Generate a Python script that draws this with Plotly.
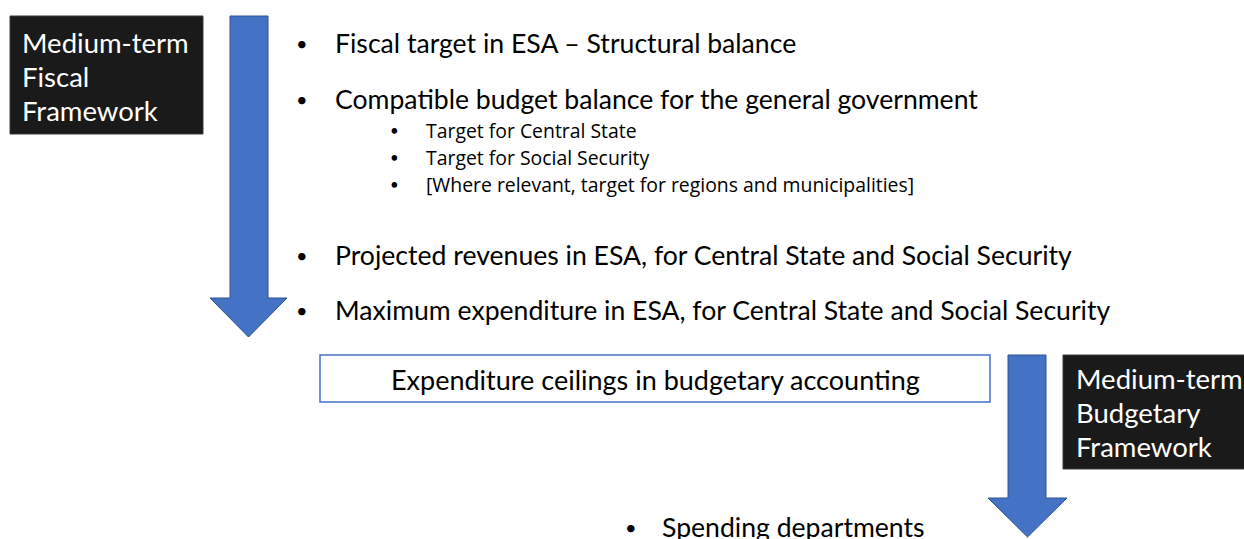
import plotly.graph_objects as go

# ---- content ----
left_label = ["Medium-term", "Fiscal", "Framework"]
right_label = ["Medium-term", "Budgetary", "Framework"]
main_bullets = [
    "Fiscal target in ESA – Structural balance",
    "Compatible budget balance for the general government",
    "Projected revenues in ESA, for Central State and Social Security",
    "Maximum expenditure in ESA, for Central State and Social Security",
]
sub_bullets = [
    "Target for Central State",
    "Target for Social Security",
    "[Where relevant, target for regions and municipalities]",
]
box_text = "Expenditure ceilings in budgetary accounting"
bottom_bullet = "Spending departments"

FONT = "Lato"
SUBFONT = "Open Sans"
BLUE = "#4472C4"
BLUE_EDGE = "#2F528F"
DARK = "#1a1a1a"

W, H = 1244, 539

fig = go.Figure()
shapes = []
ann = []

def arrow(x0, x1, y0, yh, hx0, hx1, ytip):
    xm = (hx0 + hx1) / 2
    path = (f"M {x0} {y0} L {x1} {y0} L {x1} {yh} L {hx1} {yh} L {xm} {ytip} "
            f"L {hx0} {yh} L {x0} {yh} Z")
    return dict(type="path", path=path, xref="x", yref="y",
                fillcolor=BLUE, line=dict(color=BLUE_EDGE, width=1))

# left black box
shapes.append(dict(type="rect", x0=10, x1=203, y0=16, y1=134, xref="x", yref="y",
                   fillcolor=DARK, line=dict(color="#3a3a3a", width=1)))
for i, t in enumerate(left_label):
    ann.append(dict(x=20, y=42 + 34 * i, text=t, xanchor="left", yanchor="middle",
                    font=dict(color="white", size=27.5, family=FONT)))

# left arrow
shapes.append(arrow(230, 268, 16, 298, 210, 287, 337))

# main bullets
main_y = [43, 99, 255, 310]
for t, y in zip(main_bullets, main_y):
    ann.append(dict(x=302, y=y, text="•", xanchor="center", yanchor="middle",
                    font=dict(color="black", size=20, family=FONT)))
    ann.append(dict(x=333, y=y, text=t, xanchor="left", yanchor="middle",
                    font=dict(color="black", size=26.6, family=FONT)))

sub_y = [130, 157, 184]
for t, y in zip(sub_bullets, sub_y):
    ann.append(dict(x=394, y=y, text="•", xanchor="center", yanchor="middle",
                    font=dict(color="black", size=15, family=FONT)))
    ann.append(dict(x=424, y=y, text=t, xanchor="left", yanchor="middle",
                    font=dict(color="black", size=19.4, family=SUBFONT)))

# ceilings box
shapes.append(dict(type="rect", x0=320, x1=990, y0=355, y1=402, xref="x", yref="y",
                   fillcolor="white", line=dict(color=BLUE, width=1.5)))
ann.append(dict(x=655, y=379, text=box_text, xanchor="center", yanchor="middle",
                font=dict(color="black", size=27, family=FONT)))

# right arrow
shapes.append(arrow(1008, 1046, 355, 498, 988, 1067, 537))

# right black box
shapes.append(dict(type="rect", x0=1063, x1=1250, y0=355, y1=469, xref="x", yref="y",
                   fillcolor=DARK, line=dict(color="#3a3a3a", width=1)))
for i, t in enumerate(right_label):
    ann.append(dict(x=1074, y=378 + 34 * i, text=t, xanchor="left", yanchor="middle",
                    font=dict(color="white", size=27.5, family=FONT)))

# bottom bullet
ann.append(dict(x=631, y=527, text="•", xanchor="center", yanchor="middle",
                font=dict(color="black", size=20, family=FONT)))
ann.append(dict(x=660, y=527, text=bottom_bullet, xanchor="left", yanchor="middle",
                font=dict(color="black", size=26.6, family=FONT)))

for a in ann:
    a.update(xref="x", yref="y", showarrow=False)

fig.update_layout(
    width=W, height=H,
    margin=dict(l=0, r=0, t=0, b=0, pad=0),
    paper_bgcolor="white", plot_bgcolor="white",
    xaxis=dict(range=[0, W], visible=False, fixedrange=True),
    yaxis=dict(range=[H, 0], visible=False, fixedrange=True),
    shapes=shapes, annotations=ann, showlegend=False,
)
fig.write_html(
    "out.html",
    config={"displayModeBar": False},
    post_script="document.body.style.margin='0';document.body.style.overflow='hidden';",
)
